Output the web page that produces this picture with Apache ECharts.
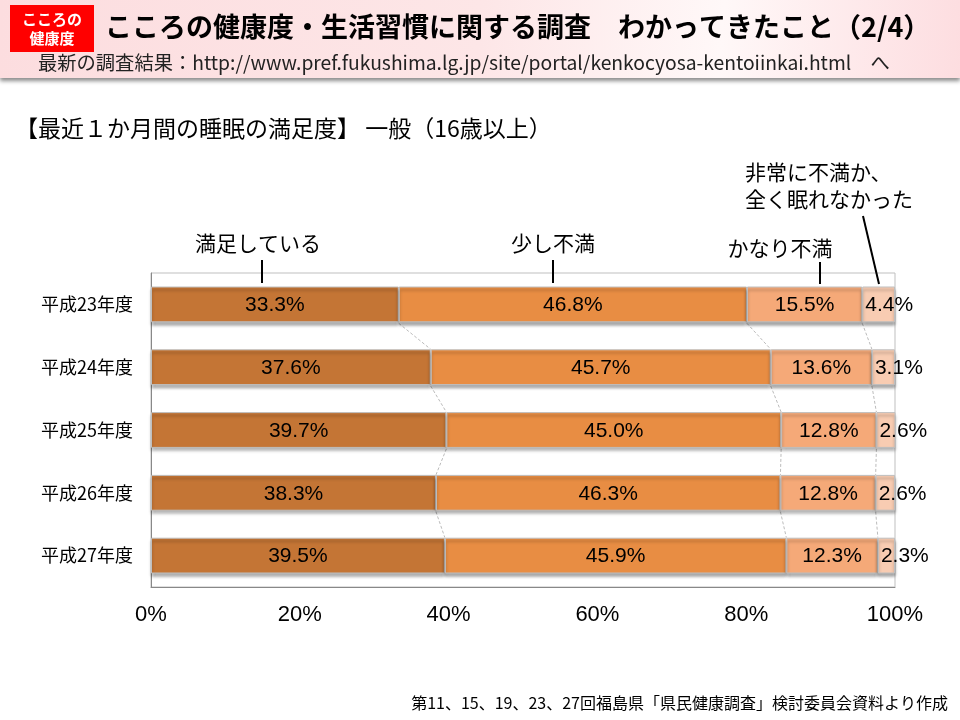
<!DOCTYPE html>
<html><head><meta charset="utf-8">
<script src="https://cdn.jsdelivr.net/npm/echarts@6/dist/echarts.min.js"></script>
<style>html,body{margin:0;padding:0;background:#fff}#c{width:960px;height:720px}</style>
</head><body><div id="c"></div>
<script>
const categories = ['平成23年度','平成24年度','平成25年度','平成26年度','平成27年度'];
const seriesNames = ['満足している','少し不満','かなり不満','非常に不満か、全く眠れなかった'];
const satisfied   = [33.3, 37.6, 39.7, 38.3, 39.5];
const slightly    = [46.8, 45.7, 45.0, 46.3, 45.9];
const quite       = [15.5, 13.6, 12.8, 12.8, 12.3];
const very        = [4.4, 3.1, 2.6, 2.6, 2.3];
const xTicks = [0, 20, 40, 60, 80, 100];
const colors = ['#C47535','#E88D43','#F5A978','#F8CCB2'];
const values = [satisfied, slightly, quite, very];
const BAR = 0.57;
const font = '"Noto Sans CJK JP","Noto Sans",sans-serif';
const numFont = '"Liberation Sans",Arial,sans-serif';

const chart = echarts.init(document.getElementById('c'));
const barSeries = values.map((arr, k) => ({
  type: 'bar', name: seriesNames[k], stack: 's', data: arr,
  barWidth: (BAR*100)+'%',
  itemStyle: {color: colors[k], borderColor: '#BFBFBF', borderWidth: 1,
    shadowColor: 'rgba(0,0,0,0.35)', shadowOffsetY: 3, shadowBlur: 3},
  label: {show: true, position: k === 3 ? 'insideLeft' : 'inside', distance: 3, offset: [0, 1],
    formatter: p => p.value.toFixed(1) + '%', color: '#000', fontSize: 21, fontFamily: numFont},
  z: 3
}));
const connector = {
  type: 'custom', data: [0,1,2,3].map(i => [0, i]), encode: {x: 0, y: 1}, z: 2, silent: true,
  renderItem: (params, api) => {
    const i = params.dataIndex;
    const half = api.size([0, 1])[1] * BAR / 2;
    const children = [];
    let ca = 0, cb = 0;
    for (let k = 0; k < 3; k++) {
      ca += values[k][i]; cb += values[k][i+1];
      const a = api.coord([ca, i]), b = api.coord([cb, i+1]);
      children.push({type: 'line', shape: {x1: a[0], y1: a[1]+half+1, x2: b[0], y2: b[1]-half},
        style: {stroke: '#BBBBBB', lineWidth: 1, lineDash: [3, 2]}});
    }
    return {type: 'group', children};
  }
};

const txt = (text, x, y, size, align, extra) => ({type: 'text', x, y,
  style: Object.assign({text, fontSize: size, fontFamily: font, fill: '#000', textAlign: align || 'left', textVerticalAlign: 'middle'}, extra || {})});
const vline = (x1, y1, x2, y2) => ({type: 'line', shape: {x1, y1, x2, y2}, style: {stroke: '#000', lineWidth: 2}});

chart.setOption({
  animation: false,
  grid: {left: 151, right: 65, top: 273, bottom: 133, show: true, borderColor: '#BFBFBF', borderWidth: 1},
  xAxis: {type: 'value', min: 0, max: 100, interval: 20,
    axisLabel: {formatter: v => xTicks.includes(v) ? v + '%' : '', fontSize: 22, color: '#000', margin: 17, fontFamily: '"Liberation Sans Narrow","Liberation Sans",sans-serif'},
    axisLine: {show: true, lineStyle: {color: '#888'}}, axisTick: {show: false}, splitLine: {show: false}},
  yAxis: {type: 'category', data: categories, inverse: true,
    axisLabel: {fontSize: 18, color: '#000', margin: 18, fontFamily: font},
    axisLine: {show: true, lineStyle: {color: '#888'}}, axisTick: {show: false}},
  series: [...barSeries, connector],
  graphic: [
    {type: 'rect', shape: {x: 0, y: 0, width: 960, height: 78},
      style: {fill: new echarts.graphic.LinearGradient(0, 0, 1, 1, [
        {offset: 0, color: '#FCDDDF'}, {offset: 0.5, color: '#FDE6E7'}, {offset: 0.75, color: '#FFF8F8'}, {offset: 1, color: '#FDDDE0'}]),
        shadowColor: 'rgba(0,0,0,0.45)', shadowBlur: 4, shadowOffsetY: 3}},
    {type: 'rect', shape: {x: 10, y: 5, width: 84, height: 47}, style: {fill: '#FF0000'}},
    txt('こころの', 52, 19, 15, 'center', {fontWeight: 'bold', fill: '#fff'}),
    txt('健康度', 52, 38, 15, 'center', {fontWeight: 'bold', fill: '#fff'}),
    txt('こころの健康度・生活習慣に関する調査　わかってきたこと（2/4）', 105, 27, 27, 'left', {fontWeight: 'bold'}),
    txt('最新の調査結果：http://www.pref.fukushima.lg.jp/site/portal/kenkocyosa-kentoiinkai.html　へ', 38, 63, 19.3, 'left', {fill: '#222'}),
    txt('【最近１か月間の睡眠の満足度】 一般（16歳以上）', 15, 128, 23, 'left'),
    txt('満足している', 258, 243, 21, 'center'),
    vline(262, 260, 262, 283),
    txt('少し不満', 553, 243, 21, 'center'),
    vline(553, 260, 553, 283),
    txt('かなり不満', 780, 248, 21, 'center'),
    vline(820, 262, 820, 284),
    txt('非常に不満か、', 745, 172, 21, 'left'),
    txt('全く眠れなかった', 745, 199, 21, 'left'),
    vline(863, 216, 879, 284),
    txt('第11、15、19、23、27回福島県「県民健康調査」検討委員会資料より作成', 948, 703, 16, 'right')
  ]
});
</script></body></html>
